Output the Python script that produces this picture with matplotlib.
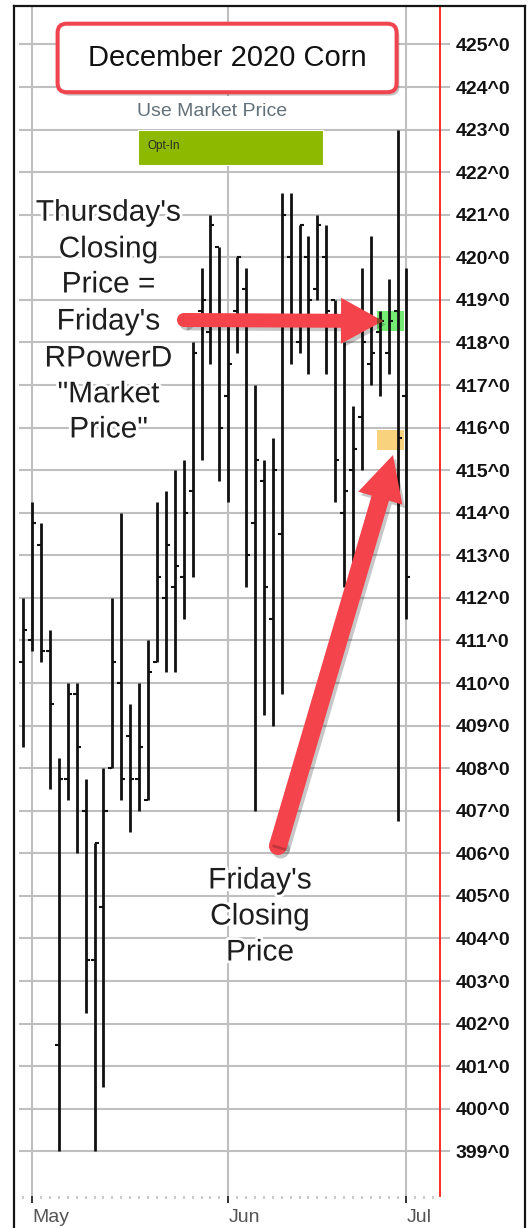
import numpy as np
import matplotlib
matplotlib.use('Agg')
import matplotlib.pyplot as plt
import matplotlib.transforms as mtransforms
import matplotlib.patheffects as pe
from matplotlib.patches import FancyBboxPatch, Rectangle, FancyArrow, Circle
from matplotlib.lines import Line2D
from matplotlib.ticker import FixedLocator, FuncFormatter

plt.rcParams['font.family'] = ['Liberation Sans', 'DejaVu Sans']

# ---------------- data ----------------
bar_index = list(range(44))
opens = [410.5, 411.0, 413.25, 410.75, 401.5, 407.75, 409.75, 407.0, 403.5, 404.75,
         408.0, 410.0, 408.75, 407.75, 407.25, 410.5, 412.0, 412.25, 412.5, 414.5,
         418.75, 418.25, 420.25, 416.75, 418.75, 419.25, 413.75, 414.75, 411.5, 413.5,
         420.0, 418.0, 420.0, 419.25, 420.0, 419.0, 414.0, 415.0, 416.25, 417.5,
         418.25, 417.75, 418.75, 416.75]
highs = [412.0, 414.25, 413.75, 411.25, 408.25, 410.0, 410.0, 407.75, 406.25, 408.0,
         412.0, 414.0, 409.5, 410.0, 411.0, 414.25, 414.5, 415.0, 415.25, 418.0,
         419.75, 421.0, 420.25, 418.5, 420.0, 419.75, 417.0, 415.25, 415.75, 421.5,
         421.5, 420.75, 420.5, 421.0, 420.75, 419.0, 418.0, 416.5, 419.75, 420.5,
         418.75, 419.5, 423.0, 419.75]
lows = [408.5, 410.75, 410.5, 407.5, 399.0, 407.25, 406.0, 402.25, 399.0, 400.5,
        408.0, 407.25, 406.5, 407.0, 407.25, 410.5, 410.25, 410.25, 411.5, 412.5,
        415.25, 417.5, 414.75, 414.25, 417.75, 412.25, 407.0, 409.25, 409.0, 409.75,
        417.5, 417.75, 417.25, 419.0, 417.25, 414.25, 412.25, 412.75, 415.0, 417.0,
        416.75, 417.25, 406.75, 411.5]
closes = [411.25, 413.75, 410.75, 409.5, 407.75, 409.75, 408.5, 403.5, 406.25, 407.0,
          410.5, 407.75, 407.75, 408.5, 410.25, 412.5, 413.25, 412.75, 414.0, 417.75,
          419.0, 420.75, 416.0, 417.5, 420.0, 413.0, 415.25, 412.25, 415.0, 421.0,
          418.5, 420.75, 419.0, 420.75, 418.75, 415.25, 414.5, 415.5, 418.0, 417.75,
          418.5, 418.5, 415.75, 412.5]
month_labels = ['May', 'Jun', 'Jul']
month_positions = [1, 23, 43]
minor_positions = list(range(0, 47))
price_ticks = list(range(399, 426))
thursday_close = 418.5
friday_close = 415.7

# ---------------- figure ----------------
W, H = 531, 1228
fig = plt.figure(figsize=(W / 100, H / 100), dpi=100)
fig.patch.set_facecolor('white')
P = mtransforms.Affine2D().scale(1 / W, -1 / H).translate(0, 1) + fig.transFigure

ax_left, ax_right, ax_top, ax_bottom = 19, 439.7, 6, 1196
ax = fig.add_axes([ax_left / W, (H - ax_bottom) / H,
                   (ax_right - ax_left) / W, (ax_bottom - ax_top) / H])
ax.set_facecolor('white')
ax.set_xlim(-0.483, 46.73)
ax.set_ylim(397.95, 425.904)

for s in ['top', 'left', 'bottom']:
    ax.spines[s].set_visible(False)
ax.spines['right'].set_color('#ff1a1a')
ax.spines['right'].set_linewidth(1.3)

grid_col = '#bfbfbf'
ax.yaxis.tick_right()
ax.yaxis.set_major_locator(FixedLocator(price_ticks))
ax.yaxis.set_major_formatter(FuncFormatter(lambda v, p: f"{int(round(v))}^0"))
ax.tick_params(axis='y', which='major', length=7.0, width=1.5, color=grid_col,
               pad=4.6, labelsize=14, labelcolor='#111111')
for lbl in ax.get_yticklabels():
    lbl.set_fontweight('bold')

ax.xaxis.set_major_locator(FixedLocator(month_positions))
ax.xaxis.set_minor_locator(FixedLocator(minor_positions))
ax.set_xticklabels(month_labels)
for lbl in ax.get_xticklabels():
    lbl.set_horizontalalignment('left')
ax.tick_params(axis='x', which='major', length=5, width=1.4, color='#333333',
               pad=4, labelsize=14, labelcolor='#555555')
ax.tick_params(axis='x', which='minor', length=2.0, width=1.1, color='#bbbbbb')

ax.set_axisbelow(True)
ax.grid(True, axis='y', color=grid_col, linewidth=1.5)
ax.grid(True, axis='x', which='major', color=grid_col, linewidth=1.5)

# price marker boxes
green_box = Rectangle((39.7, thursday_close - 0.23), 3.0, 0.46,
                      facecolor='#74ec74', edgecolor='none', zorder=1.5)
orange_box = Rectangle((39.65, friday_close - 0.235), 3.05, 0.47,
                       facecolor='#f9d27e', edgecolor='none', zorder=1.5)
ax.add_patch(green_box)
ax.add_patch(orange_box)

# OHLC bars
bar_col = '#111111'
ax.vlines(bar_index, lows, highs, colors=bar_col, linewidth=2.0, zorder=2)
xi = np.array(bar_index, dtype=float)
ax.hlines(opens, xi - 0.45, xi, colors=bar_col, linewidth=1.5, zorder=2)
ax.hlines(closes, xi, xi + 0.45, colors=bar_col, linewidth=1.5, zorder=2)

# ---------------- annotations (pixel coordinates) ----------------
red = '#f4434b'
shadow = [pe.SimplePatchShadow(offset=(2, -2.5), shadow_rgbFace='black', alpha=0.22), pe.Normal()]

# title box
title_box = FancyBboxPatch((57.6, 23.7), 339, 68.5,
                           boxstyle='round,pad=0,rounding_size=9',
                           facecolor='white', edgecolor='#f0444e', linewidth=2.9,
                           transform=P, clip_on=False, zorder=6, path_effects=shadow)
ax.add_patch(title_box)
ax.text(227, 57.5, 'December 2020 Corn', transform=P, fontsize=21, color='#111111',
        ha='center', va='center', zorder=7, clip_on=False)

# Use Market Price / Opt-In
ax.add_patch(Rectangle((134, 95.6), 188, 33.2, facecolor='white', edgecolor='none',
                       transform=P, clip_on=False, zorder=6))
ax.text(137.3, 111.5, 'Use Market Price', transform=P, fontsize=14, color='#62707a',
        ha='left', va='center', zorder=7, clip_on=False)
ax.add_patch(Rectangle((138.3, 129.5), 184.2, 35.5, facecolor='#8dba00', edgecolor='white',
                       linewidth=0.8, transform=P, clip_on=False, zorder=6))
ax.text(148, 145.5, 'Opt-In', transform=P, fontsize=8.5, color='#2b2b2b',
        ha='left', va='center', zorder=7, clip_on=False)

# arrows
def arrow(x0, y0, x1, y1, width, head_w, head_l, color, z, clip=None):
    a = FancyArrow(x0, y0, x1 - x0, y1 - y0, width=width, head_width=head_w,
                   head_length=head_l, length_includes_head=True,
                   facecolor=color, edgecolor='none', transform=P, clip_on=False, zorder=z)
    if clip is None:
        c = Circle((x0, y0), width / 2, facecolor=color, edgecolor='none', transform=P,
                   clip_on=False, zorder=z)
        a.set_path_effects(shadow)
        c.set_path_effects(shadow)
        ax.add_patch(c)
        ax.add_patch(a)
    else:
        ax.add_patch(a)
        a.set_clip_on(True)
        a.set_clip_path(clip)
    return a

arrow(184, 320, 383, 321, 14, 46, 42, red, 5)
arrow(278, 846, 393, 455, 18, 46, 45, red, 5)
# brown blend where arrow tip overlaps green box
arrow(184, 320, 383, 321, 14, 46, 42, '#7d4a22', 5.5, clip=green_box)

# annotation texts
glow = [pe.withStroke(linewidth=4, foreground='white')]
left_lines = ["Thursday's", "Closing", "Price =", "Friday's", "RPowerD", '"Market', 'Price"']
left_base = [220.7, 257.3, 292.5, 329.5, 366.5, 402.3, 437.5]
for t, yb in zip(left_lines, left_base):
    ax.text(108.5, yb, t, transform=P, fontsize=21.5, color='#1e1e1e', ha='center',
            va='baseline', zorder=7, clip_on=False, path_effects=glow)
right_lines = ["Friday's", "Closing", "Price"]
right_base = [888.5, 924.5, 960.5]
for t, yb in zip(right_lines, right_base):
    ax.text(260, yb, t, transform=P, fontsize=21.5, color='#1e1e1e', ha='center',
            va='baseline', zorder=7, clip_on=False, path_effects=glow)

# outer frame
for xs, ys in [([14.2, 14.2], [6, 1228]), ([14.2, 525.4], [6.1, 6.1]), ([525.4, 525.4], [6, 1228])]:
    fig.add_artist(Line2D(xs, ys, transform=P, color='#151515', linewidth=1.6, zorder=10))

fig.savefig('out.png', dpi=100, facecolor='white')
